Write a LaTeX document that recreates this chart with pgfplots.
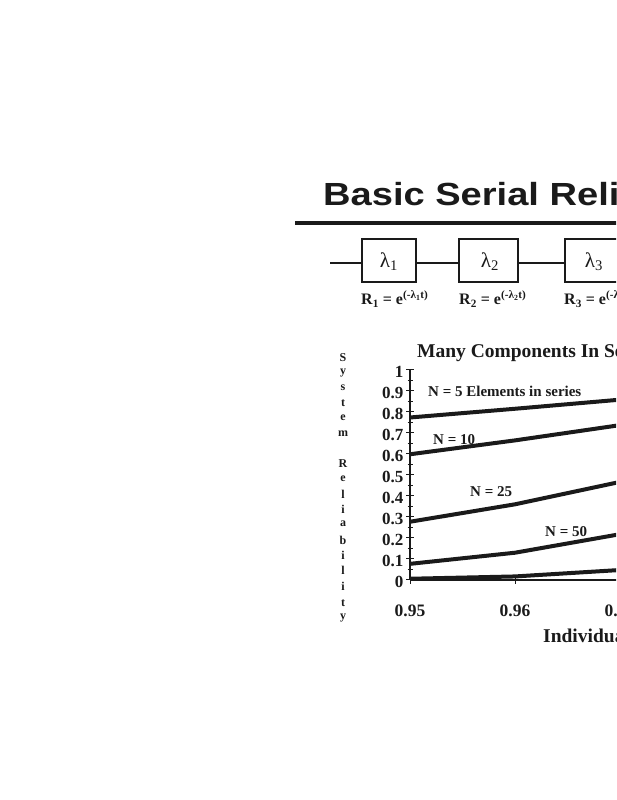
\documentclass[border=0pt]{standalone}
\usepackage{pgfplots}
\pgfplotsset{compat=1.18}
\usepackage{graphicx}
\usepackage{fontspec}
\setmainfont{Liberation Serif}
\newfontfamily\titlefont{Liberation Sans}
\definecolor{ink}{HTML}{1A1A1A}
\begin{document}
\begin{tikzpicture}
\useasboundingbox (0,0) rectangle (616pt,800pt);
\clip (0,0) rectangle (616pt,800pt);
% slide title
\node[anchor=base west,inner sep=0,text=ink] at (323pt,594pt)
  {\scalebox{1.19}[1]{\titlefont\bfseries\fontsize{32}{32}\selectfont Basic Serial Reliability}};
\draw[line width=3.5pt,ink] (295pt,577pt) -- (640pt,577pt);
% block diagram
\begin{scope}[line width=1.1pt,ink]
\draw (330pt,537pt) -- (362pt,537pt);
\draw (362pt,518pt) rectangle (416pt,561pt);
\draw (416pt,537pt) -- (459pt,537pt);
\draw (459pt,518pt) rectangle (518pt,561pt);
\draw (518pt,537pt) -- (565pt,537pt);
\draw (565pt,518pt) rectangle (625pt,561pt);
\end{scope}
\node[text=ink] at (389pt,538pt) {\fontsize{21}{21}\selectfont λ\textsubscript{1}};
\node[text=ink] at (490pt,538pt) {\fontsize{21}{21}\selectfont λ\textsubscript{2}};
\node[text=ink] at (594pt,538pt) {\fontsize{21}{21}\selectfont λ\textsubscript{3}};
\node[anchor=base west,inner sep=0,text=ink] at (361pt,495pt) {\fontsize{16}{16}\selectfont\textbf{R\textsubscript{1} = e}\textsuperscript{\textbf{(-λ\textsubscript{1}t)}}};
\node[anchor=base west,inner sep=0,text=ink] at (459pt,495pt) {\fontsize{16}{16}\selectfont\textbf{R\textsubscript{2} = e}\textsuperscript{\textbf{(-λ\textsubscript{2}t)}}};
\node[anchor=base west,inner sep=0,text=ink] at (564pt,495pt) {\fontsize{16}{16}\selectfont\textbf{R\textsubscript{3} = e}\textsuperscript{\textbf{(-λ\textsubscript{3}t)}}};
% chart title
\node[anchor=base west,inner sep=0,text=ink] at (417pt,442pt) {\bfseries\fontsize{19.5}{19.5}\selectfont Many Components In Series};
% stacked y label
\foreach \ch/\yy in {S/358,y/373,s/388,t/403,e/418,m/434,R/464,e/479,l/494,i/509,a/524,b/540,i/555,l/570,i/586,t/603,y/618}
  \node[text=ink,inner sep=0,font=\bfseries\fontsize{12}{12}\selectfont] at (343pt,{(800-\yy)*1pt}) {\ch};
\begin{axis}[
  at={(410pt,220pt)}, anchor=south west,
  scale only axis, width=525pt, height=210pt,
  xmin=0.95, xmax=1.0, ymin=0, ymax=1,
  axis x line=bottom, axis y line=left,
  axis line style={-,line width=1.2pt,ink},
  xtick={0.95,0.96,0.97,0.98,0.99,1},
  xticklabels={0.95,0.96,0.97,0.98,0.99,1},
  ytick={0,0.1,0.2,0.3,0.4,0.5,0.6,0.7,0.8,0.9,1},
  yticklabels={0,0.1,0.2,0.3,0.4,0.5,0.6,0.7,0.8,0.9,1},
  minor y tick num=1,
  tick align=center,
  major tick length=8pt, minor tick length=5pt,
  tick style={line width=1pt,ink},
  tick label style={font=\bfseries\fontsize{17}{17}\selectfont,text=ink},
  xticklabel style={font=\bfseries\fontsize{17.5}{17.5}\selectfont,yshift=-17pt},
  yticklabel style={xshift=1pt,yshift=-1.5pt},
  clip=false,
]
\addplot[line width=4pt,ink,line join=round] coordinates {(0.95,0.7738) (0.96,0.8154) (0.97,0.8587) (0.98,0.9039) (0.99,0.9510) (1.0,1.0)};
\addplot[line width=4pt,ink,line join=round] coordinates {(0.95,0.5987) (0.96,0.6648) (0.97,0.7374) (0.98,0.8171) (0.99,0.9044) (1.0,1.0)};
\addplot[line width=4pt,ink,line join=round] coordinates {(0.95,0.2774) (0.96,0.3604) (0.97,0.4670) (0.98,0.6035) (0.99,0.7778) (1.0,1.0)};
\addplot[line width=4pt,ink,line join=round] coordinates {(0.95,0.0769) (0.96,0.1299) (0.97,0.2181) (0.98,0.3642) (0.99,0.6050) (1.0,1.0)};
\addplot[line width=4pt,ink,line join=round] coordinates {(0.95,0.0059) (0.96,0.0169) (0.97,0.0476) (0.98,0.1326) (0.99,0.3660) (1.0,1.0)};
\end{axis}
% curve labels
\node[anchor=base west,inner sep=0,text=ink] at (428pt,403pt) {\bfseries\fontsize{15}{15}\selectfont N = 5 Elements in series};
\node[anchor=base west,inner sep=0,text=ink] at (433pt,355pt) {\bfseries\fontsize{15}{15}\selectfont N = 10};
\node[anchor=base west,inner sep=0,text=ink] at (470pt,303pt) {\bfseries\fontsize{15}{15}\selectfont N = 25};
\node[anchor=base west,inner sep=0,text=ink] at (545pt,263pt) {\bfseries\fontsize{15}{15}\selectfont N = 50};
\node[anchor=base west,inner sep=0,text=ink] at (543pt,157pt) {\bfseries\fontsize{19.5}{19.5}\selectfont Individual Component Reliability};
\end{tikzpicture}
\end{document}
